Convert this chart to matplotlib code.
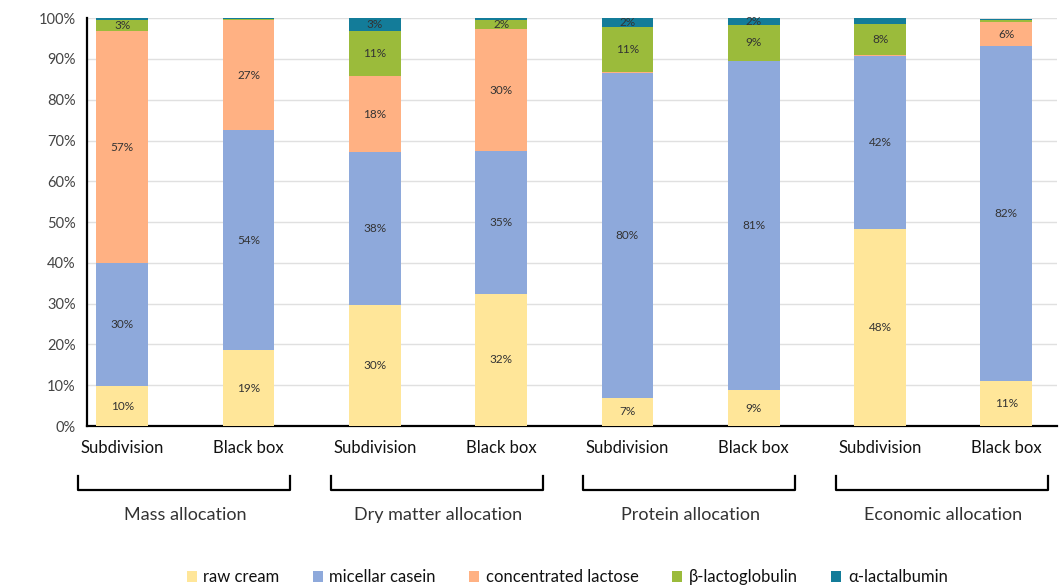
import numpy as np
import matplotlib.pyplot as plt

sub_labels = ["Subdivision", "Black box"] * 4
groups = ["Mass allocation", "Dry matter allocation", "Protein allocation", "Economic allocation"]
series = ["raw cream", "micellar casein", "concentrated lactose", "β-lactoglobulin", "α-lactalbumin"]
colors = ["#FFE699", "#8EA9DB", "#FFB183", "#9BBB3B", "#137C99"]

raw_cream = [9.8, 18.6, 29.7, 32.4, 6.9, 8.8, 48.3, 11.0]
casein = [30.2, 54.0, 37.6, 35.0, 79.6, 80.7, 42.4, 82.1]
lactose = [56.8, 26.9, 18.4, 29.9, 0.4, 0.1, 0.3, 6.0]
beta = [2.8, 0.3, 11.1, 2.2, 10.9, 8.8, 7.6, 0.5]
alpha = [0.4, 0.2, 3.2, 0.5, 2.2, 1.6, 1.4, 0.2]
data = [raw_cream, casein, lactose, beta, alpha]

plt.rcParams['font.family'] = ['Lato', 'DejaVu Sans']

fig = plt.figure(figsize=(10.6, 5.86), dpi=100)
ax = fig.add_axes([0.082, 0.273, 0.915, 0.696])

x = np.arange(len(sub_labels))
bottom = np.zeros(len(x))
for name, vals, c in zip(series, data, colors):
    vals = np.array(vals)
    ax.bar(x, vals, 0.41, bottom=bottom, color=c, label=name, zorder=3)
    for xi, b, v in zip(x, bottom, vals):
        if v >= 1.5:
            ax.text(xi, b + v / 2, f"{round(v):.0f}%", ha="center", va="center",
                    fontsize=8.5, color="#333333", zorder=4)
    bottom += vals

ax.set_ylim(0, 100)
ax.set_xlim(-0.28, 7.4)
ax.set_yticks(np.arange(0, 101, 10))
ax.set_yticklabels([f"{v}%" for v in range(0, 101, 10)], fontsize=10.5, color="#444444")
ax.set_xticks(x)
ax.set_xticklabels(sub_labels, fontsize=12, color="#111111")
ax.tick_params(axis="both", length=0, pad=8)
ax.tick_params(axis="x", pad=10)
ax.grid(axis="y", color="#e0e0e0", linewidth=1, zorder=0)
for s in ["top", "right"]:
    ax.spines[s].set_visible(False)
ax.spines["left"].set_linewidth(1.6)
ax.spines["bottom"].set_linewidth(1.6)

trans = ax.get_xaxis_transform()
for g, name in enumerate(groups):
    x0 = 2 * g - 0.35
    x1 = 2 * g + 1 + 0.33
    ax.plot([x0, x0, x1, x1], [-0.123, -0.157, -0.157, -0.123], color="black",
            linewidth=1.6, transform=trans, clip_on=False)
    ax.text(2 * g + 0.5, -0.218, name, transform=trans, ha="center", va="center",
            fontsize=13, color="#333333")

handles, labels = ax.get_legend_handles_labels()
fig.legend(handles, labels, loc="center", bbox_to_anchor=(0.535, 0.015), ncol=5,
           frameon=False, fontsize=12, handlelength=0.6, handleheight=0.6,
           handletextpad=0.4, columnspacing=2.0, labelcolor="#111111")

fig.savefig("out.png", dpi=100)
